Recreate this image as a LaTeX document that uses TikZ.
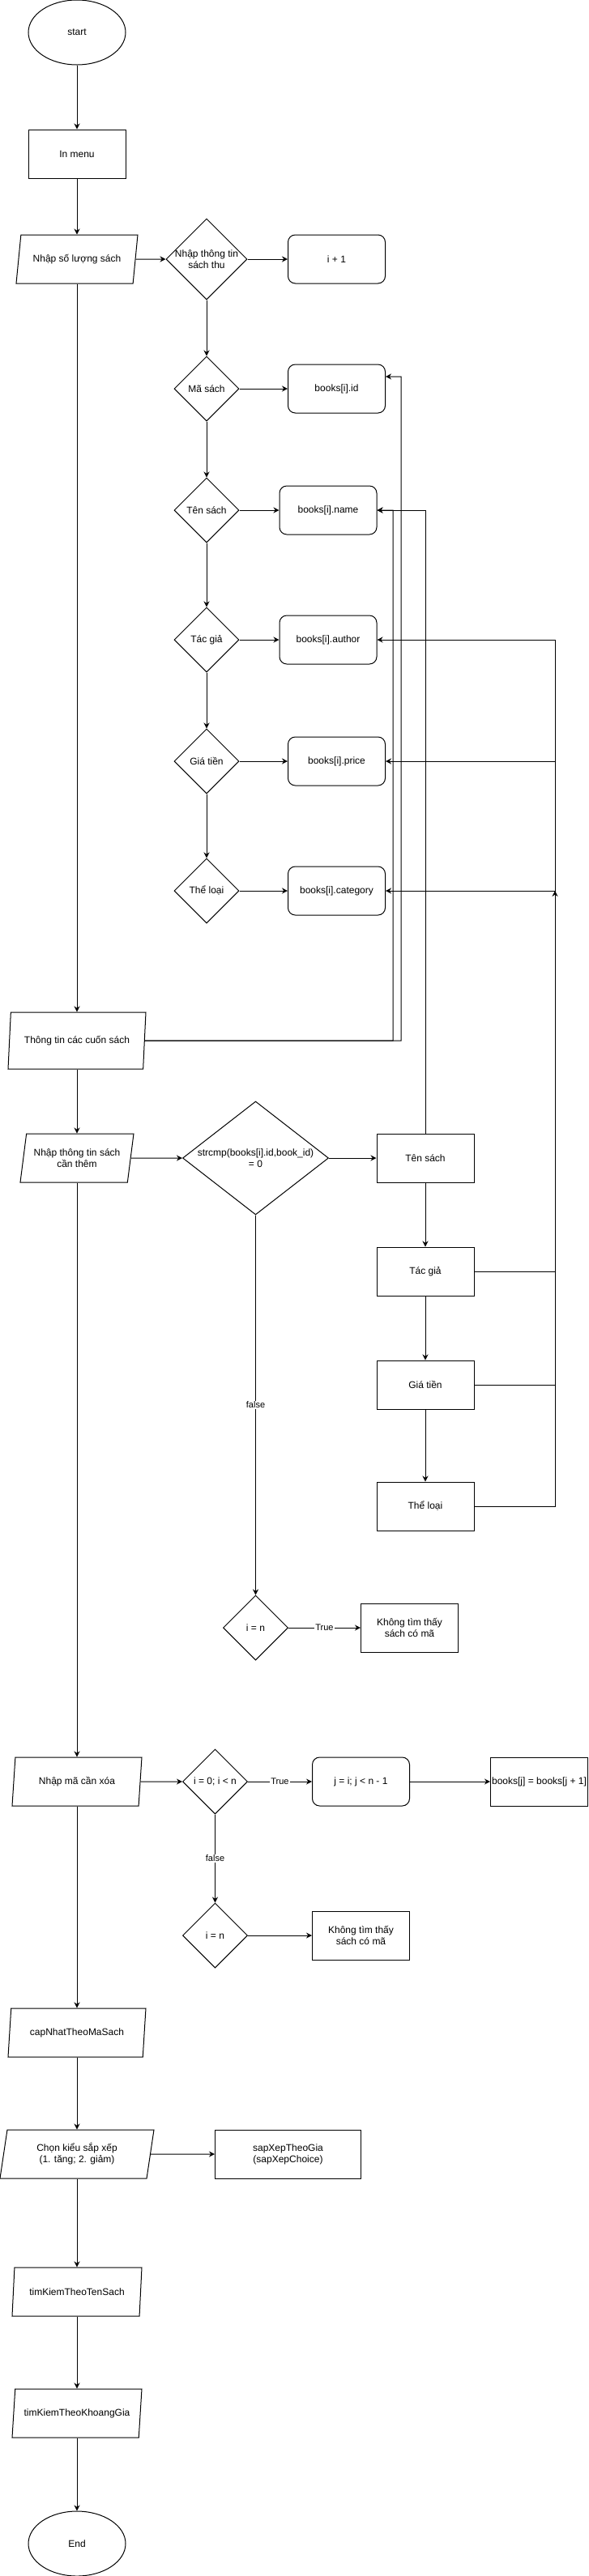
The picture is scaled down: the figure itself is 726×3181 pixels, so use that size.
\documentclass[tikz,border=0pt]{standalone}
\usepackage{fontspec}
\setmainfont{Liberation Sans}
\usetikzlibrary{shapes.geometric,arrows.meta}

\newcommand{\boxtxt}[1]{\makebox[0pt]{#1}}

\tikzset{
  base/.style={draw, line width=1pt, inner sep=0pt, align=center},
  term/.style={base, ellipse, minimum width=120pt, minimum height=80pt},
  proc/.style={base, rectangle, minimum width=120pt, minimum height=60pt},
  rproc/.style={proc, rounded corners=9pt},
  dec/.style={base, diamond, minimum width=80pt, minimum height=80pt},
  io/.style={base, trapezium, trapezium stretches body,
    trapezium left angle=71.565, trapezium right angle=108.435,
    minimum width=160pt, minimum height=60pt},
  flow/.style={line width=1pt, -{Stealth[length=7pt,width=7pt]}},
  lbl/.style={fill=white, inner sep=1pt, font=\fontsize{11}{13}\selectfont},
}

\begin{document}
\begin{tikzpicture}[x=1pt, y=-1pt, font=\fontsize{12}{14}\selectfont]% [ show background grid ]
\useasboundingbox (0,0) rectangle (726,3181);

\node[term] (start) at (95,40) {start};
\node[proc] (menu) at (95,190) {In menu};
\node[io, minimum width=150pt, trapezium left angle=63.435, trapezium right angle=116.565] (soluong) at (95,320) {\boxtxt{Nhập số lượng sách}};

\node[dec, minimum width=100pt, minimum height=100pt] (nhapthu) at (255,320) {\boxtxt{Nhập thông tin}\\\boxtxt{sách thu}};
\node[rproc] (tang) at (415.5,320) {i + 1};

\node[dec] (dma) at (255,480) {Mã sách};
\node[rproc] (bid) at (415.5,480) {books[i].id};
\node[dec] (dten) at (255,630) {Tên sách};
\node[rproc] (bname) at (405,630) {books[i].name};
\node[dec] (dtac) at (255,790) {Tác giả};
\node[rproc] (bauthor) at (405,790) {books[i].author};
\node[dec] (dgia) at (255,940) {Giá tiền};
\node[rproc] (bprice) at (415.5,940) {books[i].price};
\node[dec] (dthe) at (255,1100) {Thể loại};
\node[rproc] (bcat) at (415.5,1100) {books[i].category};

\node[io, minimum width=170pt, minimum height=70pt, trapezium left angle=74.055, trapezium right angle=105.945] (thongtin) at (95,1285) {\boxtxt{Thông tin các cuốn sách}};
\node[io, minimum width=140pt] (canthem) at (95,1430) {\boxtxt{Nhập thông tin sách}\\\boxtxt{cần thêm}};
\node[dec, minimum width=180pt, minimum height=140pt] (strcmp) at (315.5,1430) {\boxtxt{strcmp(books[i].id,book\_id)}\\\boxtxt{= 0}};

\node[proc] (tensach) at (525,1430) {Tên sách};
\node[proc] (tacgia) at (525,1570) {Tác giả};
\node[proc] (giatien) at (525,1710) {Giá tiền};
\node[proc] (theloai) at (525,1860) {Thể loại};

\node[dec] (bang1) at (315.5,2010) {i = n};
\node[proc] (khong1) at (505.5,2010) {Không tìm thấy\\sách có mã};

\node[io] (xoa) at (95,2200) {\boxtxt{Nhập mã cần xóa}};
\node[dec] (vong) at (265.5,2200) {i = 0; i < n};
\node[rproc] (vongj) at (445.5,2200) {j = i; j < n - 1};
\node[proc] (dich) at (665.5,2200) {\boxtxt{books[j] = books[j + 1]}};
\node[dec] (bang2) at (265.5,2390) {i = n};
\node[proc] (khong2) at (445.5,2390) {Không tìm thấy\\sách có mã};

\node[io, minimum width=170pt] (capnhat) at (95,2510) {\boxtxt{capNhatTheoMaSach}};
\node[io, minimum width=190pt] (chon) at (95,2660) {\boxtxt{Chọn kiểu sắp xếp}\\\boxtxt{(1. tăng; 2. giảm)}};
\node[proc, minimum width=180pt] (sapxep) at (355.5,2660) {sapXepTheoGia\\(sapXepChoice)};
\node[io] (timten) at (95,2830) {\boxtxt{timKiemTheoTenSach}};
\node[io] (timgia) at (95,2980) {\boxtxt{timKiemTheoKhoangGia}};
\node[term] (stop) at (95,3141) {End};

\coordinate (nga) at (685,1100);

\draw[flow] (start) -- (menu);
\draw[flow] (menu) -- (soluong);
\draw[flow] (soluong) -- (nhapthu);
\draw[flow] (nhapthu) -- (tang);
\draw[flow] (nhapthu) -- (dma);
\draw[flow] (dma) -- (bid);
\draw[flow] (dma) -- (dten);
\draw[flow] (dten) -- (bname);
\draw[flow] (dten) -- (dtac);
\draw[flow] (dtac) -- (bauthor);
\draw[flow] (dtac) -- (dgia);
\draw[flow] (dgia) -- (bprice);
\draw[flow] (dgia) -- (dthe);
\draw[flow] (dthe) -- (bcat);

\draw[flow] (soluong) -- (thongtin);
\draw[flow] (thongtin.east) -- (495,1285) |- ([yshift=15pt]bid.east);
\draw[flow] (thongtin.east) -- (485,1285) |- (bname.east);
\draw[flow] (thongtin) -- (canthem);
\draw[flow] (canthem) -- (strcmp);
\draw[flow] (strcmp) -- (tensach);
\draw[flow] (tensach) -- (tacgia);
\draw[flow] (tacgia) -- (giatien);
\draw[flow] (giatien) -- (theloai);
\draw[flow] (tensach.north) |- (bname.east);
\draw[flow] (tacgia.east) -- (685,1570) |- (bauthor.east);
\draw[flow] (giatien.east) -- (685,1710) |- (bprice.east);
\draw[flow] (theloai.east) -| (nga);
\draw[flow] (nga) -- (bcat.east);
\draw[flow] (strcmp) -- node[lbl] {false} (bang1);
\draw[flow] (bang1) -- node[lbl] {True} (khong1);

\draw[flow] (canthem) -- (xoa);
\draw[flow] (xoa) -- (vong);
\draw[flow] (vong) -- node[lbl] {True} (vongj);
\draw[flow] (vongj) -- (dich);
\draw[flow] (vong) -- node[lbl] {false} (bang2);
\draw[flow] (bang2) -- (khong2);

\draw[flow] (xoa) -- (capnhat);
\draw[flow] (capnhat) -- (chon);
\draw[flow] (chon) -- (sapxep);
\draw[flow] (chon) -- (timten);
\draw[flow] (timten) -- (timgia);
\draw[flow] (timgia) -- (stop);

\end{tikzpicture}
\end{document}
